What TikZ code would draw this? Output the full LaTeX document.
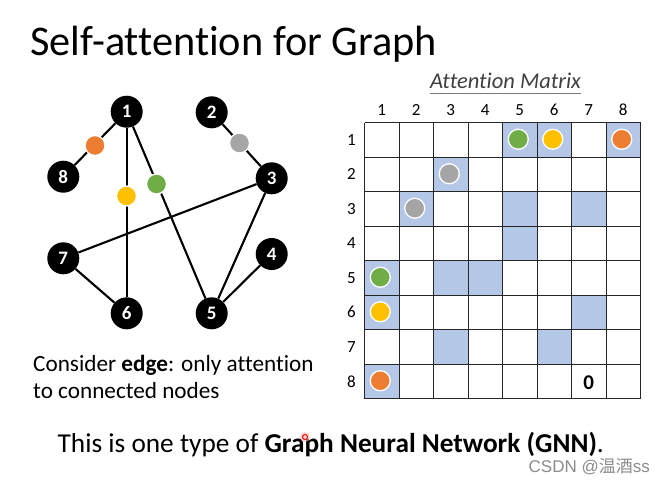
\documentclass[tikz,border=0pt]{standalone}
\usepackage{fontspec}
\setmainfont{Carlito}[Ligatures=NoCommon]
\newfontfamily\cjkfont{Noto Sans CJK SC}
\newfontfamily\wmfont{Liberation Sans}
\definecolor{cblue}{HTML}{B4C7E7}
\definecolor{corange}{HTML}{ED7D31}
\definecolor{cgray}{HTML}{A5A5A5}
\definecolor{cyellow}{HTML}{FFC000}
\definecolor{cgreen}{HTML}{70AD47}
\definecolor{ctitle}{HTML}{404040}
\begin{document}
\begin{tikzpicture}[x=1pt,y=-1pt,
  gnode/.style={circle,fill=black,minimum size=32pt,inner sep=0pt,text=white,font=\fontsize{19}{19}\selectfont\bfseries},
  edotc/.style={circle,draw=white,line width=1.3pt,minimum size=20pt,inner sep=0pt},
  gedge/.style={line width=2.1pt},
  mlabel/.style={font=\fontsize{17}{17}\selectfont,inner sep=0pt},
  txt/.style={inner sep=0pt,anchor=base west}]
\useasboundingbox[fill=white] (0,0) rectangle (664,483);

% title
\node[txt,font=\fontsize{42.3}{48}\selectfont] (title) at (30,55.7) {Self-attention for Graph};

% graph nodes
\node[gnode] (n1) at (126.7,111.7) {1};
\node[gnode] (n2) at (211.7,112.3) {2};
\node[gnode] (n3) at (271.7,178.3) {3};
\node[gnode] (n4) at (271.7,254) {4};
\node[gnode] (n5) at (211.7,313.3) {5};
\node[gnode] (n6) at (126.7,313.3) {6};
\node[gnode] (n7) at (63.3,258.3) {7};
\node[gnode] (n8) at (63.3,176.7) {8};

\draw[gedge] (n1) -- (n8);
\draw[gedge] (n1) -- (n6);
\draw[gedge] (n1) -- (n5);
\draw[gedge] (n2) -- (n3);
\draw[gedge] (n3) -- (n7);
\draw[gedge] (n3) -- (n5);
\draw[gedge] (n4) -- (n5);
\draw[gedge] (n7) -- (n6);

\node[edotc,fill=corange] (d18) at (95,145.5) {};
\node[edotc,fill=cgray] (d23) at (239.5,143) {};
\node[edotc,fill=cyellow] (d16) at (126.5,196) {};
\node[edotc,fill=cgreen] (d15) at (156.5,184) {};

% attention matrix
\def\mx{364.5}
\def\my{122.5}
\def\mc{34.5}
\node[inner sep=0pt,anchor=base,font=\fontsize{22.5}{24}\selectfont\itshape,text=ctitle] (mtitle) at (505.5,88.3) {Attention Matrix};
\draw[ctitle!70,line width=1pt] ([yshift=-5pt]mtitle.base west) -- ([yshift=-5pt]mtitle.base east);

\foreach \r/\c in {1/5,1/6,1/8,2/3,3/2,3/5,3/7,4/5,5/1,5/3,5/4,6/1,6/7,7/3,7/6,8/1}{
  \fill[cblue] ({\mx+(\c-1)*\mc},{\my+(\r-1)*\mc}) rectangle ({\mx+\c*\mc},{\my+\r*\mc});
}
\foreach \i in {0,...,8}{
  \draw[black!85,line width=0.9pt] ({\mx+\i*\mc},\my) -- ({\mx+\i*\mc},{\my+8*\mc});
  \draw[black!85,line width=0.9pt] (\mx,{\my+\i*\mc}) -- ({\mx+8*\mc},{\my+\i*\mc});
}
\foreach \i in {1,...,8}{
  \node[mlabel] (col\i) at ({\mx+(\i-0.5)*\mc},110) {\i};
  \node[mlabel] (row\i) at (351.5,{\my+(\i-0.5)*\mc}) {\i};
}
\foreach \r/\c/\col in {1/5/cgreen,1/6/cyellow,1/8/corange,2/3/cgray,3/2/cgray,5/1/cgreen,6/1/cyellow,8/1/corange}{
  \node[edotc,fill=\col] (m\r\c) at ({\mx+(\c-0.5)*\mc-1.5},{\my+(\r-0.5)*\mc-0.5}) {};
}
\node[inner sep=0pt,font=\fontsize{21}{21}\selectfont\bfseries] (zero) at ({\mx+6.5*\mc},{\my+7.5*\mc+1}) {0};

% texts
\node[txt,font=\fontsize{23.2}{26}\selectfont] (cons1) at (33,371.7) {Consider \textbf{edge}: only attention};
\node[txt,font=\fontsize{23.2}{26}\selectfont] (cons2) at (33,398.3) {to connected nodes};

\node[txt,font=\fontsize{27.3}{30}\selectfont] (bottom) at (57.5,452) {This is one type of \textbf{Graph Neural Network (GNN)}.};

% laser pointer
\fill[red!25,opacity=0.6] (305,437) circle (5);
\draw[red,line width=1pt] (305,437) circle (2.5);

% watermark
\node[inner sep=0pt,anchor=base east,text=black!45,font=\fontsize{17}{17}\selectfont] (wm) at (650,472) {\wmfont CSDN @\cjkfont 温酒\wmfont ss};
\end{tikzpicture}
\end{document}
